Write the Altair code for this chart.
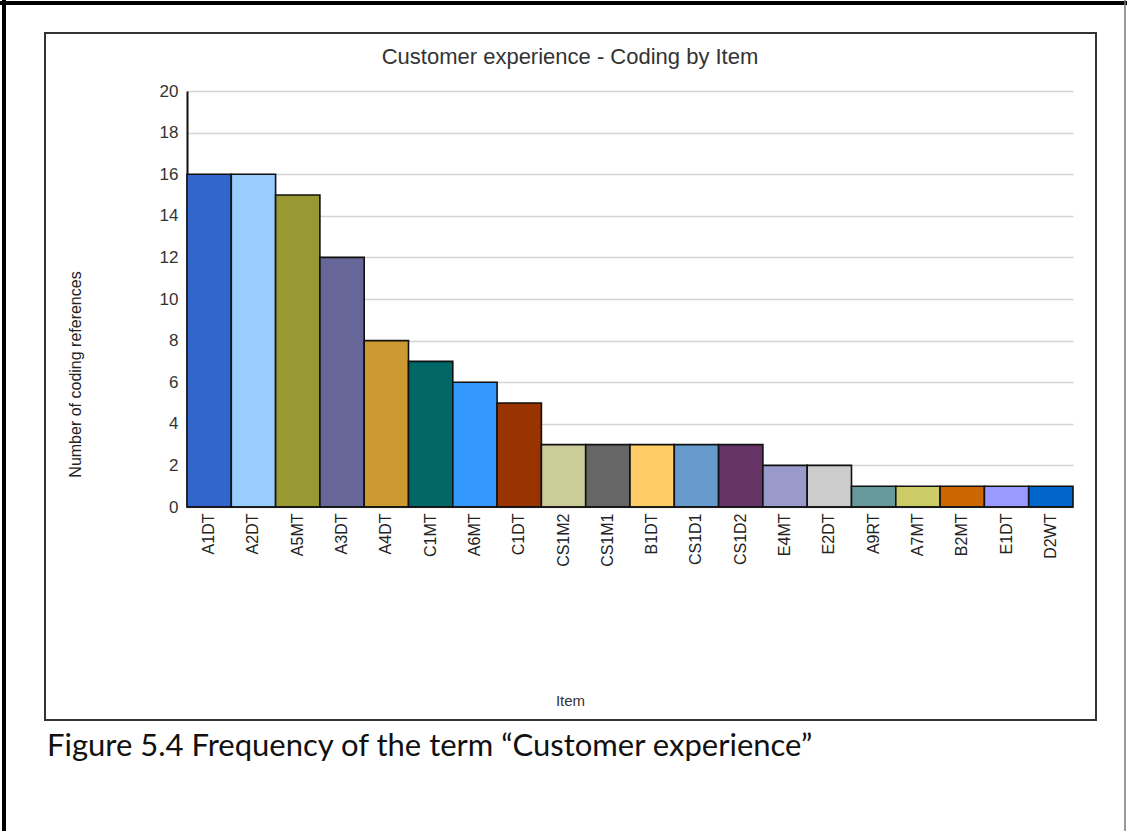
import altair as alt
import pandas as pd

items = ["A1DT", "A2DT", "A5MT", "A3DT", "A4DT", "C1MT", "A6MT", "C1DT", "CS1M2", "CS1M1",
         "B1DT", "CS1D1", "CS1D2", "E4MT", "E2DT", "A9RT", "A7MT", "B2MT", "E1DT", "D2WT"]
counts = [16, 16, 15, 12, 8, 7, 6, 5, 3, 3, 3, 3, 3, 2, 2, 1, 1, 1, 1, 1]
colors = ["#3366cc", "#99ccff", "#999933", "#666699", "#cc9933", "#006666", "#3399ff",
          "#993300", "#cccc99", "#666666", "#ffcc66", "#6699cc", "#663366", "#9999cc",
          "#cccccc", "#669999", "#cccc66", "#cc6600", "#9999ff", "#0066cc"]
y_ticks = [0, 2, 4, 6, 8, 10, 12, 14, 16, 18, 20]

title_text = "Customer experience - Coding by Item"
y_title = "Number of coding references"
x_title = "Item"
caption = "Figure 5.4 Frequency of the term \u201cCustomer experience\u201d"

df = pd.DataFrame({"Item": items, "Count": counts})

W, H = 886, 416
NARROW = "Liberation Sans Narrow, Arial Narrow, Liberation Sans"

bars = alt.Chart(df).mark_bar(stroke="#111111", strokeWidth=1.6).encode(
    x=alt.X("Item:N", sort=items,
            scale=alt.Scale(paddingInner=0, paddingOuter=0),
            axis=alt.Axis(title=x_title, labelAngle=-90, labelFont=NARROW, labelFontSize=16,
                          labelColor="#222222", labelPadding=6, ticks=False, domain=False,
                          titleFont="Liberation Sans", titleFontSize=15, titleFontWeight="normal",
                          titleColor="#333333", titleX=383, titleY=193, titleBaseline="middle")),
    y=alt.Y("Count:Q", scale=alt.Scale(domain=[0, 20], nice=False),
            axis=alt.Axis(title=y_title, values=y_ticks, labelFont="Liberation Sans",
                          labelFontSize=17, labelColor="#333333", labelPadding=9,
                          ticks=False, domain=True, domainColor="#111111", domainWidth=2,
                          grid=True, gridColor="#d4d4d4", gridWidth=1.5,
                          titleFont=NARROW, titleFontSize=16, titleFontWeight="normal",
                          titleColor="#222222", titleX=-112, titleY=283, titleAngle=-90,
                          titleBaseline="middle", titleAlign="center")),
    color=alt.Color("Item:N", sort=items, scale=alt.Scale(domain=items, range=colors), legend=None),
)

dummy = pd.DataFrame({"k": [0]})
base = alt.Chart(dummy)

inner_box = base.mark_rect(fill=None, stroke="#333333", strokeWidth=2).encode(
    x=alt.value(-142), x2=alt.value(909), y=alt.value(-58), y2=alt.value(629))
top_border = base.mark_rule(color="#000000", strokeWidth=4).encode(
    x=alt.value(-187), x2=alt.value(940), y=alt.value(-88))
left_border = base.mark_rule(color="#000000", strokeWidth=4).encode(
    x=alt.value(-183), y=alt.value(-91), y2=alt.value(740))
right_border = base.mark_rule(color="#777777", strokeWidth=1.5).encode(
    x=alt.value(938), y=alt.value(-91), y2=alt.value(740))
zero_line = base.mark_rule(color="#111111", strokeWidth=1.5).encode(
    x=alt.value(0), x2=alt.value(W), y=alt.value(H))

title_mark = base.mark_text(font="Liberation Sans", fontSize=22, color="#333333",
                            align="center", baseline="middle").encode(
    x=alt.value(383), y=alt.value(-34), text=alt.value(title_text))
caption_mark = base.mark_text(font="Lato", fontSize=31, color="#111111",
                              align="left", baseline="middle").encode(
    x=alt.value(-140), y=alt.value(656), text=alt.value(caption))

chart = alt.layer(bars, zero_line, inner_box, top_border, left_border, right_border,
                  title_mark, caption_mark).properties(
    width=W, height=H,
    autosize=alt.AutoSizeParams(type="none"),
    padding={"left": 187, "top": 91, "right": 54, "bottom": 324},
    background="#ffffff",
).configure_view(stroke=None)

chart.save("out.html", embed_options={"renderer": "svg", "actions": False})
